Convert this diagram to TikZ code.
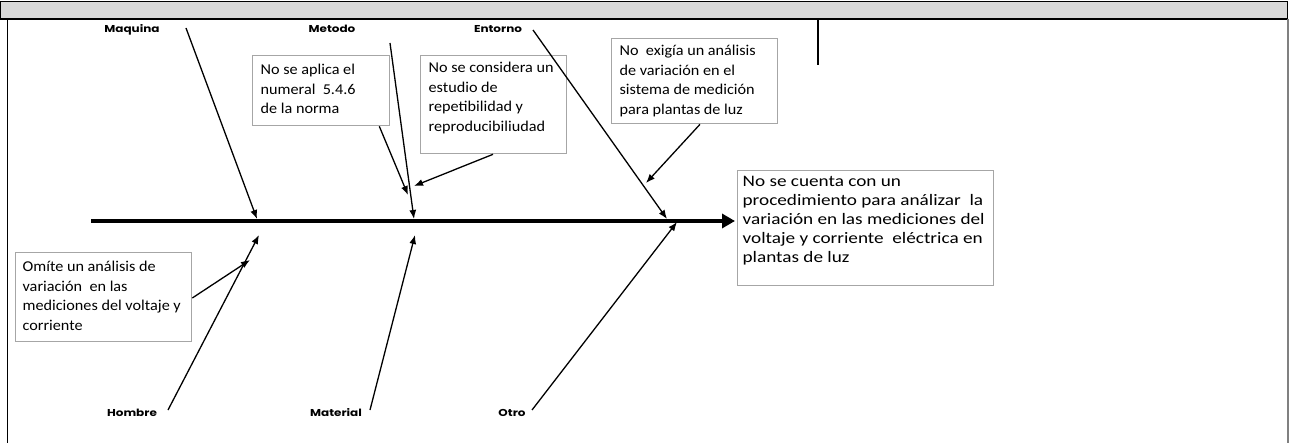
\documentclass[tikz,border=0pt]{standalone}
\usepackage{fontspec}
\setmainfont{Carlito}
\newfontfamily\labfont{Poppins}[FakeStretch=1.2]
\newfontfamily\sboxfont{Carlito}[FakeStretch=1.08]
\newfontfamily\bboxfont{Carlito}[FakeStretch=1.2]
\usetikzlibrary{arrows.meta}
\definecolor{hdrgray}{HTML}{D9D9D9}
\definecolor{boxgray}{HTML}{A6A6A6}
\definecolor{edgegray}{HTML}{808080}
% \bx{width}{height}{top skip}{left skip}{lines separated by \cr}
\newcommand\bx[5]{\hbox to #1{\hskip#4\vbox to #2{\vskip#3\relax\halign{\rule{0pt}{12pt}##\hfil\cr#5\cr}\vfil}\hss}}
\tikzset{
  tbox/.style={draw=boxgray, line width=1.3pt, inner sep=0pt, anchor=north west, font=\sboxfont\fontsize{15}{19.5}\selectfont},
  bigbox/.style={tbox, font=\bboxfont\fontsize{16}{19}\selectfont},
  lab/.style={font=\labfont\bfseries\fontsize{10}{11}\selectfont, anchor=base, inner sep=0pt},
  bone/.style={line width=1.3pt, -{Latex[length=9pt,width=7pt]}},
  spine/.style={line width=3.6pt, -{Triangle[length=13pt,width=14pt]}},
  frame/.style={line width=1.2pt}
}
\begin{document}
\begin{tikzpicture}[x=1pt,y=-1pt]
\useasboundingbox (0,0) rectangle (1289,443);
% frame
\fill[hdrgray] (0,1.5) rectangle (1288,19);
\draw[frame] (0,1.5) -- (1288,1.5);
\draw[frame] (0,19) -- (1288,19);
\draw[frame] (0.6,1.5) -- (0.6,19);
\draw[line width=1.8pt] (1287.5,1.5) -- (1287.5,19);
\draw[frame] (7.5,19) -- (7.5,443);
\draw[edgegray, line width=1.2pt] (1288,19) -- (1288,443);
\draw[line width=1.3pt] (818,19) -- (818,65);

% boxes
\node[tbox] (b1) at (252,55) {\bx{137pt}{70pt}{7pt}{8pt}{No se aplica el\cr numeral\ \ 5.4.6\cr de la norma}};
\node[tbox] (b2) at (420,55) {\bx{146pt}{98pt}{5pt}{8pt}{No se considera un\cr estudio de\cr repetibilidad y\cr reproducibiliudad}};
\node[tbox] (b3) at (611,38) {\bx{166pt}{85pt}{5pt}{8pt}{No\ \ exigía un análisis\cr de variación en el\cr sistema de medición\cr para plantas de luz}};
\node[tbox] (b4) at (15,252) {\bx{176pt}{89pt}{7pt}{7pt}{Omíte un análisis de\cr variación\ \ en las\cr mediciones del voltaje y\cr corriente}};
\node[bigbox] (main) at (737,170) {\bx{256pt}{115pt}{4pt}{5pt}{No se cuenta con un\cr procedimiento para análizar\ \ la\cr variación en las mediciones del\cr voltaje y corriente\ \ eléctrica en\cr plantas de luz}};

% labels
\node[lab] (lmaq) at (132,33) {Maquina};
\node[lab] (lmet) at (332,33) {Metodo};
\node[lab] (lent) at (498,33) {Entorno};
\node[lab] (lhom) at (132,416) {Hombre};
\node[lab] (lmat) at (336,416) {Material};
\node[lab] (lotr) at (512,416) {Otro};

% spine
\coordinate (sL) at (91,221);
\coordinate (sR) at (735,221);
\draw[spine] (sL) -- (sR);

% bone end points
\coordinate (tMaq) at (186,28);
\coordinate (pMaq) at (257,219);
\coordinate (tMet) at (390,43);
\coordinate (pMet) at (414,219);
\coordinate (tEnt) at (533,30);
\coordinate (pEnt) at (667,219);
\coordinate (tHom) at (168,410);
\coordinate (pHom) at (259,235);
\coordinate (tMat) at (370,410);
\coordinate (pMat) at (415,235);
\coordinate (tOtr) at (532,410);
\coordinate (pOtr) at (677,222);
\draw[bone] (tMaq) -- (pMaq);
\draw[bone] (tMet) -- (pMet);
\draw[bone] (tEnt) -- (pEnt);
\draw[bone] (tHom) -- (pHom);
\draw[bone] (tMat) -- (pMat);
\draw[bone] (tOtr) -- (pOtr);

% cause arrows
\coordinate (q1) at (408,195);
\coordinate (q2) at (414,186);
\coordinate (q3) at (646,183);
\coordinate (q4) at (250,260);
\draw[bone] ([xshift=-11pt]b1.south east) -- (q1);
\draw[bone] (b2.south -| 493,0) -- (q2);
\draw[bone] (b3.south -| 700,0) -- (q3);
\draw[bone] (b4.east |- 0,298) -- (q4);
\end{tikzpicture}
\end{document}
